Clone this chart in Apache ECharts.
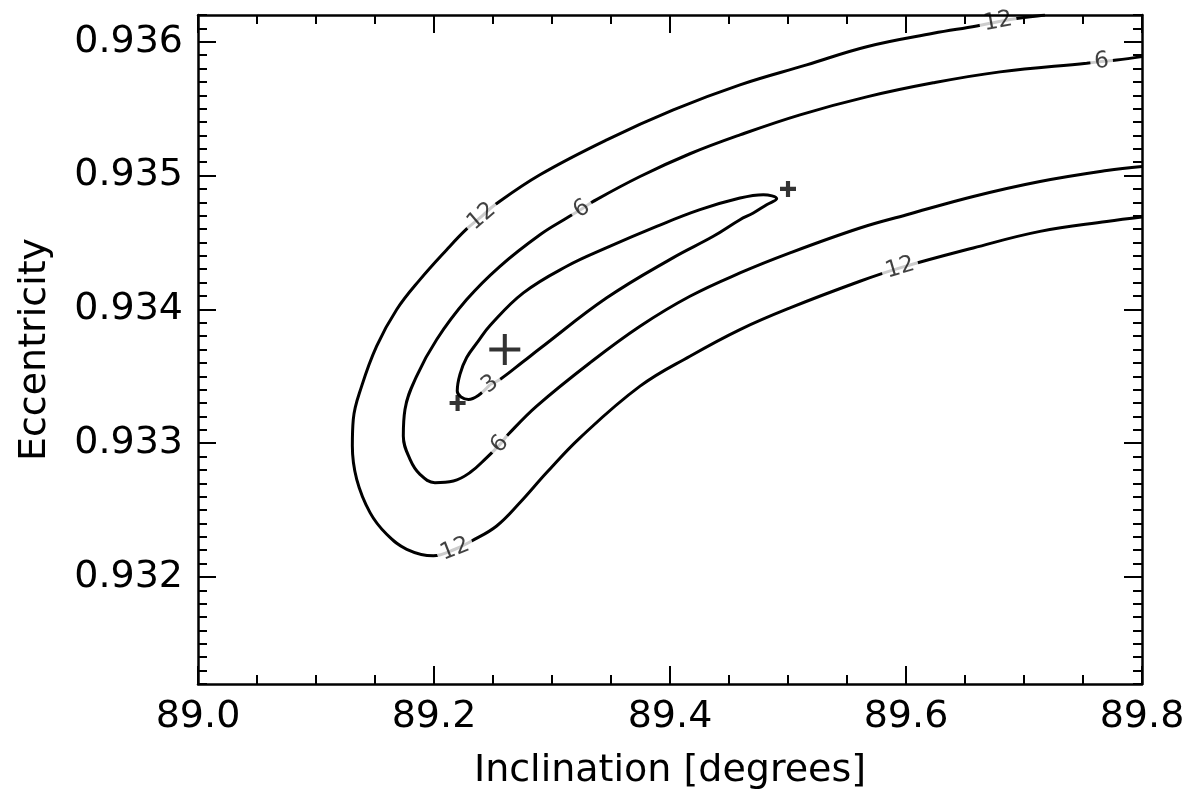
<!DOCTYPE html>
<html><head><meta charset="utf-8">
<script src="https://cdn.jsdelivr.net/npm/echarts@6/dist/echarts.min.js"></script>
<style>html,body{margin:0;padding:0;background:#fff}#c{width:1188px;height:799px}</style>
</head><body><div id="c"></div>
<script>
// ---- data ----
const xTicks = [89.0, 89.2, 89.4, 89.6, 89.8];
const yTicks = [0.932, 0.933, 0.934, 0.935, 0.936];
const contour12 = [
  [89.7178,0.93620],[89.6952,0.936175],[89.6780,0.93615],[89.6599,0.936118],[89.6231,0.936063],
  [89.5667,0.935963],[89.5158,0.935827],[89.4593,0.935678],[89.4028,0.935491],[89.3464,0.935267],
  [89.2898,0.935006],[89.2517,0.934782],[89.2404,0.934695],[89.2277,0.934601],[89.2108,0.934446],
  [89.1881,0.934222],[89.1684,0.933999],[89.1514,0.933725],[89.1387,0.933426],[89.1316,0.933178],
  [89.1308,0.932978],[89.1345,0.932730],[89.1458,0.932481],[89.1599,0.932319],[89.1769,0.932207],
  [89.1994,0.932158],[89.2178,0.932207],[89.2319,0.932269],[89.2531,0.932381],[89.2729,0.932556],
  [89.2955,0.932780],[89.3237,0.933040],[89.3746,0.933426],[89.4169,0.933650],
  [89.4593,0.933849],[89.5017,0.934011],[89.5610,0.934210],[89.5949,0.934310],[89.6570,0.934459],
  [89.7136,0.934583],[89.7701,0.934657],[89.8000,0.934690]
];
const contour6 = [
  [89.8000,0.935889],[89.7786,0.935864],[89.7658,0.935852],[89.7531,0.935840],[89.6797,0.935775],
  [89.6231,0.935693],[89.5667,0.935588],[89.5102,0.935454],[89.4593,0.935304],[89.4169,0.935163],
  [89.3746,0.934993],[89.3350,0.934807],[89.3252,0.934750],[89.3125,0.934683],[89.2898,0.934558],
  [89.2559,0.934322],[89.2277,0.934073],[89.2023,0.933775],[89.1853,0.933501],[89.1754,0.933252],
  [89.1740,0.933053],[89.1797,0.932879],[89.1881,0.932767],[89.2008,0.932705],[89.2164,0.932717],
  [89.2305,0.932780],[89.2447,0.932892],[89.2559,0.932991],[89.2630,0.933066],[89.2870,0.933277],
  [89.3322,0.933601],[89.3746,0.933874],[89.4169,0.934098],[89.4593,0.934272],[89.5017,0.934422],
  [89.5610,0.934608],[89.6006,0.934707],[89.6570,0.934844],[89.7136,0.934956],[89.7701,0.935038],
  [89.8000,0.935068]
];
const contour3 = [
  [89.2475,0.933439],[89.2375,0.933357],[89.2291,0.933327],[89.2197,0.933389],[89.2220,0.933514],
  [89.2277,0.933640],[89.2375,0.933762],[89.2475,0.933879],[89.2757,0.934123],[89.3125,0.934322],
  [89.3464,0.934461],[89.3887,0.934620],[89.4254,0.934745],[89.4593,0.934832],[89.4791,0.934857],
  [89.4904,0.934827],[89.4819,0.934782],[89.4706,0.934720],[89.4593,0.934670],[89.4367,0.934546],
  [89.4028,0.934387],[89.3464,0.934086],[89.2898,0.933707],[89.2757,0.933610],[89.2559,0.933476],
  [89.2475,0.933439]
];
const contourLevels = ['12', '6', '3'];
const label12At = [2, 12, 26, 37];
const label6At = [2, 12, 27];
const label3At = [0];
const bestFit = [[89.26, 0.9337]];
const otherFits = [[89.22, 0.9333], [89.50, 0.9349]];

// ---- chart ----
const FONT = 'DejaVu Sans';
const chart = echarts.init(document.getElementById('c'), null, {renderer: 'canvas'});
const axisLineStyle = {color: '#000', width: 2.5};
const tickStyle = {color: '#000', width: 2};
const labelStyle = {fontFamily: FONT, fontSize: 38, color: '#000'};

function xAxisDef(pos, showLabel) {
  return {
    type: 'value', position: pos, min: 89.0, max: 89.8, interval: 0.2, z: 10,
    axisLine: {show: true, onZero: false, lineStyle: axisLineStyle},
    axisTick: {show: true, inside: true, length: 18, lineStyle: tickStyle},
    minorTick: {show: true, splitNumber: 4, length: 9, lineStyle: tickStyle},
    splitLine: {show: false}, minorSplitLine: {show: false},
    axisLabel: Object.assign({show: showLabel, margin: 14, formatter: v => v.toFixed(1)}, labelStyle),
    name: showLabel ? 'Inclination [degrees]' : '', nameLocation: 'middle', nameGap: 68,
    nameTextStyle: Object.assign({}, labelStyle)
  };
}
function yMajor(pos, showLabel) {
  return {
    type: 'value', position: pos, min: 0.9312, max: 0.9362, z: 10,
    axisLine: {show: true, onZero: false, lineStyle: axisLineStyle},
    axisTick: {show: true, inside: true, length: 18, lineStyle: tickStyle, customValues: yTicks},
    splitLine: {show: false},
    axisLabel: Object.assign({show: showLabel, margin: 15, customValues: yTicks, formatter: v => v.toFixed(3)}, labelStyle),
    name: showLabel ? 'Eccentricity' : '', nameLocation: 'middle', nameGap: 144,
    nameTextStyle: Object.assign({}, labelStyle)
  };
}
function yMinor(pos) {
  return {
    type: 'value', position: pos, min: 0.9312, max: 0.9362, interval: 0.0001, z: 10,
    axisLine: {show: false, onZero: false},
    axisTick: {show: true, inside: true, length: 9, lineStyle: tickStyle},
    splitLine: {show: false}, axisLabel: {show: false}
  };
}

function contourSeries(data) {
  return {
    type: 'line', data: data, xAxisIndex: 0, yAxisIndex: 0, showSymbol: false, symbol: 'none',
    smooth: 0.4, lineStyle: {color: '#000', width: 3}, z: 2, silent: true, animation: false
  };
}

const plusBig = 'path://M-1.3,-10L1.3,-10L1.3,-1.3L10,-1.3L10,1.3L1.3,1.3L1.3,10L-1.3,10L-1.3,1.3L-10,1.3L-10,-1.3L-1.3,-1.3Z';
const plusSmall = 'path://M-2.6,-10L2.6,-10L2.6,-2.6L10,-2.6L10,2.6L2.6,2.6L2.6,10L-2.6,10L-2.6,2.6L-10,2.6L-10,-2.6L-2.6,-2.6Z';

const baseOption = {
  animation: false,
  backgroundColor: '#fff',
  grid: {left: 198, right: 46, top: 15, bottom: 115, containLabel: false},
  xAxis: [xAxisDef('bottom', true), xAxisDef('top', false)],
  yAxis: [yMajor('left', true), yMinor('left'), yMajor('right', false), yMinor('right')],
  series: [
    contourSeries(contour12), contourSeries(contour6), contourSeries(contour3),
    {type: 'scatter', data: bestFit, symbol: plusBig, symbolSize: 31, itemStyle: {color: '#000'}, z: 4, silent: true},
    {type: 'scatter', data: otherFits, symbol: plusSmall, symbolSize: 16, itemStyle: {color: '#000'}, z: 4, silent: true}
  ]
};
chart.setOption(baseOption);

function buildLabels(data, idxs, text, closed) {
  return idxs.map(i => {
    const n = data.length;
    const pi = i > 0 ? i - 1 : (closed ? n - 2 : 0);
    const ni = i < n - 1 ? i + 1 : (closed ? 1 : n - 1);
    const a = chart.convertToPixel({xAxisIndex: 0, yAxisIndex: 0}, data[pi]);
    const b = chart.convertToPixel({xAxisIndex: 0, yAxisIndex: 0}, data[ni]);
    let ang = Math.atan2(-(b[1] - a[1]), b[0] - a[0]) * 180 / Math.PI;
    if (ang > 90) ang -= 180;
    if (ang < -90) ang += 180;
    return {value: data[i], label: {rotate: ang, formatter: text}};
  });
}
const labelData = []
  .concat(buildLabels(contour12, label12At, contourLevels[0], false))
  .concat(buildLabels(contour6, label6At, contourLevels[1], false))
  .concat(buildLabels(contour3, label3At, contourLevels[2], true));

chart.setOption({
  series: baseOption.series.concat([{
    type: 'scatter', data: labelData, symbolSize: 0, z: 3, silent: true,
    label: {show: true, position: 'inside', fontFamily: FONT, fontSize: 23, color: '#111',
      backgroundColor: '#fff', padding: [0, 4], align: 'center', verticalAlign: 'middle'}
  }])
});
</script></body></html>
